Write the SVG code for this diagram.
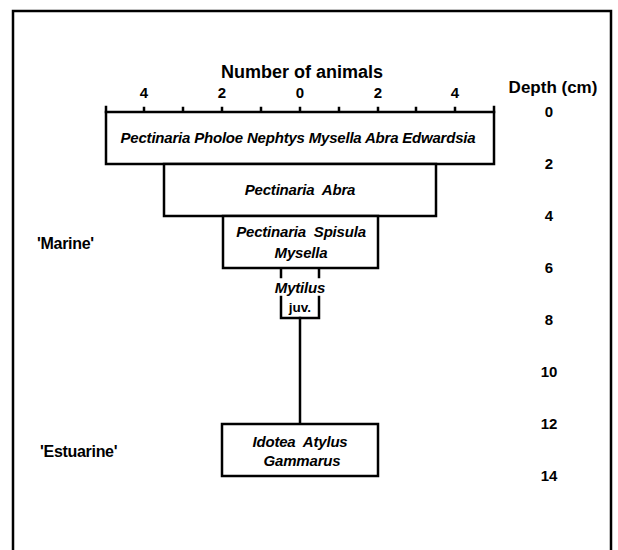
<svg xmlns="http://www.w3.org/2000/svg" width="618" height="550" viewBox="0 0 618 550">
<style>
.ln{fill:none;stroke:#000;stroke-width:2.5;stroke-linecap:square}
.bx{fill:#fff;stroke:#000;stroke-width:2.5}
.t{font-family:"Liberation Sans",Arial,sans-serif;font-weight:bold;fill:#000}
.ax{font-size:18px}
.num{font-size:15px}
.sp{font-size:15px;font-style:italic;letter-spacing:-0.2px}
.lab{font-size:16px;letter-spacing:-0.3px}
.juv{font-size:13.5px}
</style>
<rect width="618" height="550" fill="#fff"/>
<path class="ln" d="M13,552 V11 H611 V552"/>
<g id="axis">
<text class="t ax" x="302" y="78" text-anchor="middle">Number of animals</text>
<g class="t num" text-anchor="middle">
<text x="144" y="98">4</text>
<text x="222" y="98">2</text>
<text x="300" y="98">0</text>
<text x="378" y="98">2</text>
<text x="455" y="98">4</text>
</g>
<path class="ln" stroke-width="2" d="M106,107 V112 M144,108 V112 M183,108 V112 M222,108 V112 M261,108 V112 M300,108 V112 M339,108 V112 M378,108 V112 M416,108 V112 M455,108 V112 M494,107 V112"/>
</g>
<g id="depth" class="t num" text-anchor="middle">
<text class="t" x="553" y="93" font-size="17">Depth (cm)</text>
<text x="549" y="117">0</text>
<text x="549" y="169">2</text>
<text x="549" y="221">4</text>
<text x="549" y="273">6</text>
<text x="549" y="325">8</text>
<text x="549" y="377">10</text>
<text x="549" y="429">12</text>
<text x="549" y="481">14</text>
</g>
<g id="labels" class="t lab">
<text x="37" y="249">'Marine'</text>
<text x="40" y="457">'Estuarine'</text>
</g>
<g id="connectors">
<path class="ln" d="M281,268 V277 M319,268 V277"/>
<path class="ln" d="M281,297 V318 H319 V297"/>
<path class="ln" d="M300,318 V424"/>
</g>
<g id="box1">
<rect class="bx" x="106" y="112" width="388" height="52"/>
<text class="t sp" x="298" y="143" text-anchor="middle">Pectinaria Pholoe Nephtys Mysella Abra Edwardsia</text>
</g>
<g id="box2">
<rect class="bx" x="164" y="164" width="272" height="52"/>
<text class="t sp" x="300" y="195" text-anchor="middle" xml:space="preserve">Pectinaria  Abra</text>
</g>
<g id="box3">
<rect class="bx" x="223" y="216" width="155" height="52"/>
<text class="t sp" x="301" y="237" text-anchor="middle" xml:space="preserve">Pectinaria  Spisula</text>
<text class="t sp" x="301" y="258" text-anchor="middle">Mysella</text>
</g>
<g id="mytilus">
<text class="t sp" x="300" y="293" text-anchor="middle">Mytilus</text>
<text class="t juv" x="300" y="312" text-anchor="middle">juv.</text>
</g>
<g id="box4">
<rect class="bx" x="222" y="424" width="156" height="52"/>
<text class="t sp" x="300" y="447" text-anchor="middle" xml:space="preserve">Idotea  Atylus</text>
<text class="t sp" x="302" y="466" text-anchor="middle">Gammarus</text>
</g>
</svg>
